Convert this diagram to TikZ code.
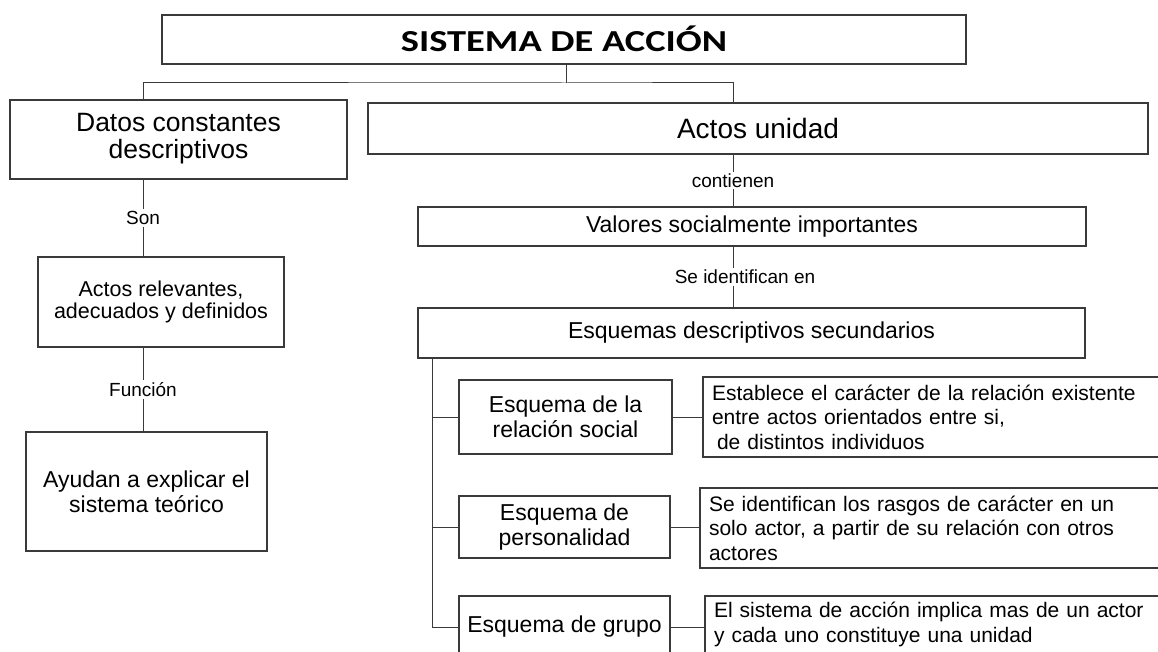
\documentclass[tikz,border=0pt]{standalone}
\usepackage{fontspec}
\setmainfont{Liberation Sans}
\newfontfamily\titlefont{Carlito}
\definecolor{linec}{HTML}{3A3A3A}
\tikzset{
  box/.style={draw=linec, line width=1.1pt, inner sep=0pt, align=center, text=black},
  desc/.style={draw=linec, line width=1.1pt, inner ysep=0pt, inner xsep=9pt, align=left, text=black,
     font=\fontsize{21}{24.5}\selectfont},
  lbl/.style={fill=white, inner sep=2pt, font=\fontsize{19}{21}\selectfont},
  conn/.style={draw=linec, line width=1pt},
  fbig/.style={font=\fontsize{26.5}{28}\selectfont},
  fmid/.style={font=\fontsize{23}{25}\selectfont},
}
\begin{document}
\begin{tikzpicture}[x=1pt,y=-1pt]
\useasboundingbox (0,0) rectangle (1158,652);
\clip (0,0) rectangle (1158,652);
\fill[white] (0,0) rectangle (1158,652);

\node[box, minimum width=804pt, minimum height=49pt, font=\titlefont\bfseries\fontsize{30.5}{32}\selectfont] (title) at (564,39.5) {\raisebox{1.5pt}{\scalebox{1.26}[1]{SISTEMA DE ACCIÓN}}};
\node[box, fbig, minimum width=337pt, minimum height=79pt] (datos) at (178.5,139.5) {\raisebox{-2pt}{\begin{tabular}{@{}c@{}}Datos constantes\\[-1pt]descriptivos\end{tabular}}};
\node[box, font=\fontsize{28}{30}\selectfont, minimum width=780pt, minimum height=51pt] (actos) at (758,128.5) {Actos unidad};
\node[box, fmid, minimum width=668pt, minimum height=39pt] (valores) at (752,226.5) {Valores socialmente importantes};
\node[box, fmid, minimum width=667pt, minimum height=50pt] (esq) at (751.5,333) {Esquemas descriptivos secundarios};
\node[box, font=\fontsize{21.5}{22}\selectfont, minimum width=246pt, minimum height=90pt] (relev) at (161,302) {Actos relevantes,\\adecuados y definidos};
\node[box, fmid, minimum width=241pt, minimum height=119pt] (ayudan) at (146.5,491.5) {Ayudan a explicar el\\sistema teórico};

\node[box, fmid, minimum width=213pt, minimum height=74pt] (ers) at (565.5,417) {Esquema de la\\relación social};
\node[box, fmid, minimum width=211pt, minimum height=62pt] (ep) at (564.5,527) {Esquema de\\personalidad};
\node[box, fmid, minimum width=211pt, minimum height=62pt] (eg) at (564.5,627) {Esquema de grupo};

\node[desc, text width=444pt, minimum height=80pt] (d1) at (934,417) {\makebox[443pt][s]{Establece el carácter de la relación existente}\\entre actos orientados entre si,\\\hspace*{5pt}de distintos individuos};
\node[desc, text width=447pt, minimum height=80pt] (d2) at (932.5,528) {Se identifican los rasgos de carácter en un\\solo actor, a partir de su relación con otros\\actores};
\node[desc, text width=442pt, minimum height=57pt] (d3) at (935,624.5) {El sistema de acción implica mas de un actor\\y cada uno constituye una unidad};

\coordinate (j1) at (566,83);
\coordinate (cL) at (143,0);
\coordinate (cR) at (733,0);
\coordinate (sp) at (432,0);

\draw[conn] (title.south -| j1) -- (j1);
\draw[conn] (cL |- datos.north) |- (j1) -| (cR |- actos.north);
\draw[conn] (cL |- datos.south) -- node[lbl]{Son} (cL |- relev.north);
\draw[conn] (cL |- relev.south) -- node[lbl]{Función} (cL |- ayudan.north);
\draw[conn] (cR |- actos.south) -- node[lbl]{contienen} (cR |- valores.north);
\draw[conn] (cR |- valores.south) -- node[lbl, xshift=12pt]{Se identifican en} (cR |- esq.north);
\draw[conn] (sp |- esq.south) |- (eg.west);
\draw[conn] (sp |- ers.west) -- (ers.west);
\draw[conn] (sp |- ep.west) -- (ep.west);
\draw[conn] (ers.east) -- (ers.east -| d1.west);
\draw[conn] (ep.east) -- (ep.east -| d2.west);
\draw[conn] (eg.east) -- (eg.east -| d3.west);
\end{tikzpicture}
\end{document}
